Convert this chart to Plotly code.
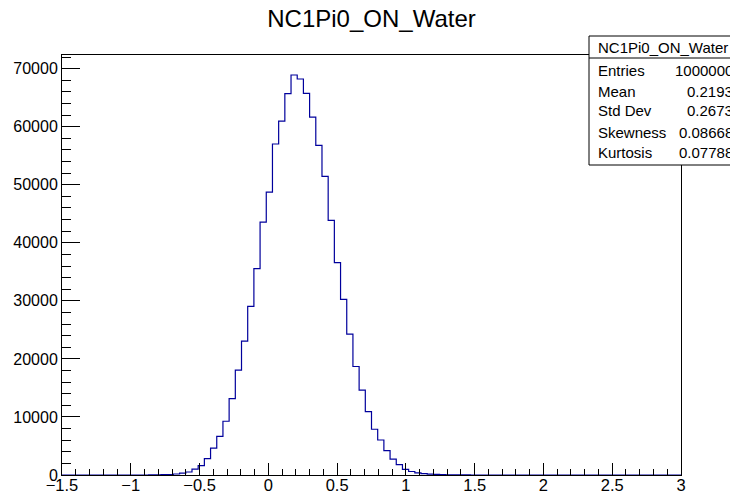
import plotly.graph_objects as go

# Histogram definition: 100 bins from -1.5 to 3
x_min = -1.5
x_max = 3.0
n_bins = 100

bin_counts = [
    0, 0, 0, 0, 0, 0, 0, 0, 0, 0,
    0, 0, 0, 0, 10, 25, 50, 90, 170, 330,
    520, 1000, 1620, 2820, 4630, 6640, 9260, 13170, 18060, 23060,
    29040, 35540, 43570, 48740, 57020, 60980, 65690, 68910, 68220, 65750,
    61670, 56780, 51440, 43850, 36570, 30250, 24270, 18690, 14610, 10930,
    7880, 6030, 4190, 2720, 1780, 960, 600, 380, 250, 160,
    100, 60, 35, 20, 10, 5, 0, 0, 0, 0,
    0, 0, 0, 0, 0, 0, 0, 0, 0, 0,
    0, 0, 0, 0, 0, 0, 0, 0, 0, 0,
    0, 0, 0, 0, 0, 0, 0, 0, 0, 0,
]

title_text = "NC1Pi0_ON_Water"
stat_names = ["Entries", "Mean", "Std Dev", "Skewness", "Kurtosis"]
stat_values = ["1000000", "0.2193", "0.2673", "0.08668", "0.07788"]

FONT = "Liberation Sans, Arial, Helvetica, sans-serif"

bw = (x_max - x_min) / n_bins
edges = [x_min + i * bw for i in range(n_bins + 1)]
xs = edges
ys = bin_counts + [bin_counts[-1]]

W, H = 730, 494
ML, MR, MT, MB = 62, 49, 55, 19
PW = W - ML - MR
PH = H - MT - MB


def px(x):
    return (x - ML) / PW


def py(y):
    return (H - MB - y) / PH


fig = go.Figure()
fig.add_trace(go.Scatter(
    x=xs, y=ys, mode="lines", line=dict(shape="hv", color="#00009c", width=1.2),
    hoverinfo="skip", showlegend=False,
))

ymax = 1.05 * max(bin_counts)

fig.update_layout(
    width=W, height=H,
    margin=dict(l=ML, r=MR, t=MT, b=MB, pad=0, autoexpand=False),
    paper_bgcolor="white", plot_bgcolor="white",
    font=dict(family=FONT, color="black", size=15),
    showlegend=False,
    title=dict(text=title_text, x=0.5, xref="paper", xanchor="center",
               y=1 - 19 / H, yref="container", yanchor="middle",
               font=dict(family=FONT, size=24, color="black")),
    xaxis=dict(
        range=[x_min, x_max], showgrid=False, zeroline=False, automargin=False,
        showline=True, linecolor="black", linewidth=1, mirror=True,
        ticks="inside", ticklen=12, tickcolor="black", tickwidth=1,
        dtick=0.5, tick0=0, tickfont=dict(size=16.5, family=FONT),
        ticklabelstandoff=-5,
        minor=dict(ticks="inside", ticklen=6, dtick=0.1, tick0=0, tickcolor="black", showgrid=False),
    ),
    yaxis=dict(
        range=[0, ymax], showgrid=False, zeroline=False, automargin=False,
        showline=True, linecolor="black", linewidth=1, mirror=True,
        ticks="inside", ticklen=18, tickcolor="black", tickwidth=1,
        dtick=10000, tick0=0, tickformat="d", tickfont=dict(size=16, family=FONT),
        minor=dict(ticks="inside", ticklen=9, dtick=2000, tick0=0, tickcolor="black", showgrid=False),
    ),
)

# Stats box
box_l, box_r, box_t, box_b = 589, 745, 36, 165
div_y = 58
fig.add_shape(type="rect", xref="paper", yref="paper",
              x0=px(box_l), x1=px(box_r), y0=py(box_b), y1=py(box_t),
              line=dict(color="black", width=1), fillcolor="white", layer="above")
fig.add_shape(type="line", xref="paper", yref="paper",
              x0=px(box_l), x1=px(box_r), y0=py(div_y), y1=py(div_y),
              line=dict(color="black", width=1), layer="above")

fig.add_annotation(xref="paper", yref="paper", x=px(596), y=py(47),
                   text=title_text, showarrow=False, xanchor="left", yanchor="middle",
                   font=dict(family=FONT, size=15, color="black"))

row_y = [71, 91, 111, 132, 153]
for name, val, ry in zip(stat_names, stat_values, row_y):
    fig.add_annotation(xref="paper", yref="paper", x=px(596), y=py(ry),
                       text=name, showarrow=False, xanchor="left", yanchor="middle",
                       font=dict(family=FONT, size=15, color="black"))
    fig.add_annotation(xref="paper", yref="paper", x=px(735), y=py(ry),
                       text=val, showarrow=False, xanchor="right", yanchor="middle",
                       font=dict(family=FONT, size=15, color="black"))

fig.write_html("out.html")
